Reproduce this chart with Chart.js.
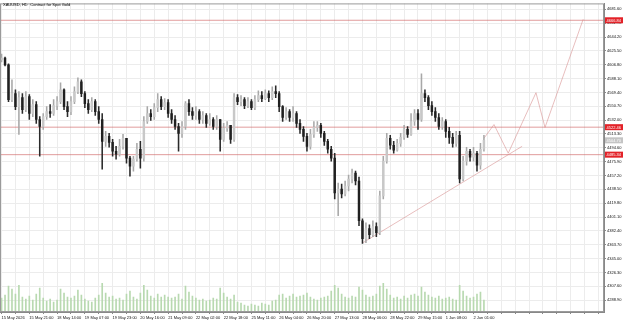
<!DOCTYPE html>
<html>
<head>
<meta charset="utf-8">
<script src="https://cdn.jsdelivr.net/npm/chart.js@4"></script>
<style>
html, body { margin: 0; padding: 0; background: #fff; }
canvas { display: block; }
</style>
</head>
<body>
<canvas id="grafico" width="625" height="321"></canvas>
<script>
// Título del gráfico (esquina superior izquierda)
const titulo = 'XAUUSD, H1:  Contract for Spot Gold';

// Etiquetas del eje de tiempo y posición (índice de vela) de cada una
const etiquetasFecha = ['15 May 2026', '15 May 21:00', '18 May 14:00', '19 May 07:00', '19 May 23:00', '20 May 16:00',
    '21 May 09:00', '22 May 02:00', '22 May 18:00', '25 May 11:00', '26 May 04:00', '26 May 20:00',
    '27 May 13:00', '28 May 06:00', '28 May 22:00', '29 May 15:00', '1 Jun 08:00', '2 Jun 01:00'];
const posicionEtiquetas = [0, 8, 16, 24, 32, 40, 48, 56, 64, 72, 80, 88, 96, 104, 112, 120, 128, 136];

// Marcas del eje de precios
const marcasPrecio = [4681.60, 4662.90, 4644.20, 4625.50, 4606.80, 4588.10, 4569.40, 4550.70, 4532.00, 4513.30,
    4494.60, 4475.90, 4457.20, 4438.50, 4419.80, 4401.10, 4382.40, 4363.70, 4345.00, 4326.30, 4307.60, 4288.90];

// Velas: apertura inicial, cierres, máximos y mínimos
const aperturaInicial = 4613.2;
const cierres = [
    4615.9, 4606.5, 4559.6, 4567.7, 4550.3, 4562.4, 4546.2, 4563.7, 4540.9, 4553.0,
    4532.8, 4523.4, 4536.8, 4543.5, 4540.9, 4551.6, 4557.0, 4573.0, 4550.3, 4543.5,
    4557.0, 4570.4, 4583.8, 4567.7, 4554.3, 4546.2, 4557.0, 4543.5, 4532.8, 4503.3,
    4510.0, 4501.9, 4489.9, 4485.9, 4496.6, 4507.4, 4480.6, 4469.8, 4479.2, 4492.6,
    4480.6, 4530.1, 4540.9, 4536.8, 4548.9, 4559.6, 4550.3, 4555.7, 4540.9, 4532.8,
    4523.4, 4514.0, 4523.4, 4554.3, 4543.5, 4538.2, 4543.5, 4532.8, 4538.2, 4527.5,
    4532.8, 4523.4, 4532.8, 4506.0, 4520.8, 4524.8, 4506.0, 4562.4, 4557.0, 4559.6,
    4551.6, 4557.0, 4548.9, 4559.6, 4565.0, 4561.0, 4567.7, 4562.4, 4570.4, 4567.7,
    4550.3, 4535.5, 4543.5, 4535.5, 4540.9, 4527.5, 4519.4, 4510.0, 4496.6, 4512.7,
    4522.1, 4524.8, 4514.0, 4503.3, 4492.6, 4480.6, 4433.6, 4439.0, 4432.3, 4443.0,
    4452.4, 4460.5, 4449.7, 4396.1, 4372.0, 4385.4, 4377.4, 4388.1, 4380.0, 4429.6,
    4476.5, 4507.4, 4498.0, 4491.3, 4500.6, 4508.7, 4519.4, 4512.7, 4530.1, 4540.9,
    4532.8, 4567.7, 4562.4, 4551.6, 4543.5, 4535.5, 4523.4, 4530.1, 4516.7, 4508.7,
    4500.6, 4511.3, 4452.4, 4476.5, 4489.9, 4481.9, 4487.2, 4471.1, 4492.6, 4504.7
];
const maximos = [
    4621.3, 4617.3, 4607.9, 4586.4, 4573.0, 4570.4, 4567.7, 4570.4, 4566.4, 4559.6,
    4557.0, 4536.8, 4540.9, 4550.3, 4553.0, 4559.6, 4563.7, 4582.4, 4574.4, 4557.0,
    4563.7, 4577.1, 4589.1, 4586.4, 4570.4, 4559.6, 4562.4, 4559.6, 4550.3, 4540.9,
    4516.7, 4514.0, 4506.0, 4496.6, 4506.0, 4512.7, 4507.4, 4483.2, 4483.2, 4500.6,
    4503.3, 4536.8, 4550.3, 4546.2, 4554.3, 4567.7, 4563.7, 4561.0, 4559.6, 4546.2,
    4538.2, 4527.5, 4530.1, 4557.0, 4559.6, 4548.9, 4550.3, 4546.2, 4543.5, 4540.9,
    4540.9, 4535.5, 4538.2, 4532.8, 4527.5, 4530.1, 4524.8, 4567.7, 4566.4, 4565.0,
    4562.4, 4562.4, 4559.6, 4565.0, 4571.7, 4570.4, 4573.0, 4571.7, 4577.1, 4578.4,
    4570.4, 4551.6, 4548.9, 4546.2, 4550.3, 4543.5, 4532.8, 4523.4, 4514.0, 4519.4,
    4530.1, 4530.1, 4527.5, 4516.7, 4506.0, 4496.6, 4487.2, 4447.0, 4445.7, 4449.7,
    4457.8, 4465.8, 4463.1, 4455.1, 4398.8, 4393.4, 4390.7, 4396.1, 4393.4, 4436.3,
    4483.2, 4514.0, 4511.3, 4503.3, 4506.0, 4514.0, 4524.8, 4523.4, 4540.9, 4546.2,
    4546.2, 4594.5, 4573.0, 4565.0, 4557.0, 4548.9, 4540.9, 4535.5, 4532.8, 4522.1,
    4514.0, 4516.7, 4516.7, 4483.2, 4495.3, 4492.6, 4495.3, 4489.9, 4500.6, 4511.3
];
const minimos = [
    4610.6, 4605.2, 4557.0, 4557.0, 4546.2, 4512.7, 4540.9, 4543.5, 4532.8, 4536.8,
    4527.5, 4483.2, 4519.4, 4532.8, 4535.5, 4538.2, 4546.2, 4554.3, 4546.2, 4536.8,
    4539.5, 4554.3, 4567.7, 4563.7, 4548.9, 4540.9, 4543.5, 4538.2, 4527.5, 4465.8,
    4496.6, 4495.3, 4483.2, 4479.2, 4483.2, 4492.6, 4473.8, 4456.4, 4463.1, 4476.5,
    4467.1, 4476.5, 4527.5, 4531.5, 4532.8, 4543.5, 4546.2, 4546.2, 4535.5, 4527.5,
    4519.4, 4489.9, 4508.7, 4519.4, 4538.2, 4532.8, 4532.8, 4527.5, 4527.5, 4522.1,
    4524.8, 4519.4, 4519.4, 4489.9, 4503.3, 4516.7, 4500.6, 4503.3, 4553.0, 4551.6,
    4547.6, 4548.9, 4546.2, 4546.2, 4557.0, 4557.0, 4559.6, 4557.0, 4559.6, 4562.4,
    4543.5, 4530.1, 4532.8, 4530.1, 4530.1, 4522.1, 4514.0, 4503.3, 4489.9, 4492.6,
    4508.7, 4516.7, 4508.7, 4497.9, 4487.2, 4476.5, 4425.6, 4402.8, 4426.9, 4429.6,
    4436.3, 4447.0, 4444.4, 4389.4, 4365.3, 4366.6, 4372.0, 4374.7, 4374.7, 4377.4,
    4425.6, 4473.8, 4492.6, 4487.2, 4489.9, 4496.6, 4506.0, 4508.7, 4511.3, 4524.8,
    4519.4, 4530.1, 4557.0, 4546.2, 4538.2, 4530.1, 4519.4, 4519.4, 4508.7, 4500.6,
    4495.3, 4496.6, 4447.0, 4449.7, 4471.1, 4476.5, 4476.5, 4463.1, 4465.8, 4489.9
];

// Volumen de ticks por vela
const volumenes = [
    2800, 3400, 5200, 4600, 3600, 5400, 3000, 2600, 3200, 2400,
    3600, 4800, 2800, 2200, 2600, 2000, 2400, 4600, 3800, 3000,
    2800, 3200, 4400, 3400, 2600, 2200, 2000, 2800, 3400, 5800,
    3800, 3000, 3200, 2600, 2800, 2400, 3600, 4200, 3000, 2600,
    3800, 5400, 4400, 3200, 2800, 3600, 3000, 3400, 3000, 2800,
    3000, 3600, 2600, 5200, 4000, 3200, 2800, 2400, 2600, 2200,
    2400, 2800, 2600, 4800, 3800, 3000, 2600, 3400, 2000, 1800,
    1400, 1200, 1600, 1400, 1200, 1800, 1600, 1400, 2200, 2400,
    3400, 3600, 2800, 3200, 3600, 3000, 3200, 3400, 3800, 3000,
    2600, 2400, 2800, 3000, 3200, 4200, 5400, 4800, 3600, 3000,
    2800, 3200, 3000, 5000, 4400, 3400, 3000, 3200, 3600, 5200,
    5800, 4600, 3400, 2800, 3000, 2600, 3200, 2800, 3400, 3600,
    3200, 5000, 4000, 3400, 3000, 2800, 3200, 2600, 2800, 3000,
    2600, 2400, 5400, 4200, 3200, 2800, 3000, 3600, 4000, 2400
];

// Niveles horizontales (rojos) y precio actual (gris)
const niveles = [4666.84, 4522.46, 4485.34];
const precioActual = 4504.70;

// Línea de tendencia y proyección en zigzag (x = índice de vela)
const tendenciaX = [104.2, 150.0];
const tendenciaY = [4366.6, 4496.6];
const zigzagX = [139.0, 141.9, 146.0, 154.0, 156.6, 167.6];
const zigzagY = [4507.4, 4526.0, 4487.3, 4569.0, 4522.1, 4668.2];

const X_MIN = -0.45, X_MAX = 173.6;
const fuente = '"Liberation Sans", Arial, sans-serif';

// Construir datos para el gráfico
const aperturas = [aperturaInicial, ...cierres.slice(0, -1)];
const mechas = cierres.map((c, i) => ({ x: i, y: [minimos[i], maximos[i]] }));
const cuerpos = cierres.map((c, i) => ({ x: i, y: [aperturas[i], c] }));
const alcista = cierres.map((c, i) => c >= aperturas[i]);
const datosVolumen = volumenes.map((v, i) => ({ x: i, y: v }));

const datasetsNiveles = niveles.map(n => ({
    type: 'line',
    data: [{ x: X_MIN, y: n }, { x: X_MAX, y: n }],
    borderColor: 'rgba(205,90,90,0.6)',
    borderWidth: 1,
    pointRadius: 0,
    yAxisID: 'y',
    order: 5
}));

// Etiquetas en el eje de precios, título y marco
const marcasPlugin = {
    id: 'marcas',
    afterDraw(chart) {
        const ctx = chart.ctx;
        const area = chart.chartArea;
        const escalaY = chart.scales.y;
        ctx.save();
        ctx.strokeStyle = '#9a9a9a';
        ctx.lineWidth = 1;
        ctx.strokeRect(area.left + 0.5, area.top + 0.5, area.right - area.left - 1, area.bottom - area.top - 1);

        ctx.font = '4px ' + fuente;
        ctx.fillStyle = '#000';
        ctx.textBaseline = 'middle';
        ctx.textAlign = 'left';
        ctx.fillText(titulo, 3, 5);

        const etiqueta = (valor, fondo) => {
            const py = escalaY.getPixelForValue(valor);
            ctx.fillStyle = fondo;
            ctx.fillRect(area.right + 1, py - 3, 18, 6);
            ctx.fillStyle = '#fff';
            ctx.fillText(valor.toFixed(2), area.right + 2.5, py + 0.3);
        };
        niveles.forEach(n => etiqueta(n, '#e32228'));
        etiqueta(precioActual, '#c4c4c4');
        ctx.restore();
    }
};

const ctx = document.getElementById('grafico').getContext('2d');
new Chart(ctx, {
    type: 'bar',
    data: {
        datasets: [
            {
                data: datosVolumen,
                yAxisID: 'yv',
                backgroundColor: '#b8d9b0',
                barThickness: 1,
                grouped: false,
                order: 10
            },
            ...datasetsNiveles,
            {
                type: 'line',
                data: tendenciaX.map((x, i) => ({ x: x, y: tendenciaY[i] })),
                borderColor: 'rgba(210,130,130,0.65)',
                borderWidth: 0.8,
                pointRadius: 0,
                yAxisID: 'y',
                order: 4
            },
            {
                type: 'line',
                data: zigzagX.map((x, i) => ({ x: x, y: zigzagY[i] })),
                borderColor: 'rgba(210,130,130,0.65)',
                borderWidth: 0.8,
                pointRadius: 0,
                tension: 0,
                yAxisID: 'y',
                order: 4
            },
            {
                data: mechas,
                yAxisID: 'y',
                backgroundColor: alcista.map(a => a ? '#a8a8a8' : '#2a2a2a'),
                barThickness: 0.9,
                grouped: false,
                order: 2
            },
            {
                data: cuerpos,
                yAxisID: 'y',
                backgroundColor: alcista.map(a => a ? '#c8c8c8' : '#202020'),
                barThickness: 1.8,
                grouped: false,
                order: 1
            }
        ]
    },
    options: {
        responsive: false,
        animation: false,
        devicePixelRatio: 1,
        layout: { padding: { top: 1, left: 0, right: 0, bottom: 0 } },
        plugins: { legend: { display: false }, tooltip: { enabled: false } },
        scales: {
            x: {
                type: 'linear',
                min: X_MIN,
                max: X_MAX,
                offset: false,
                afterBuildTicks: (escala) => {
                    const marcas = [];
                    for (let v = 0; v <= 172; v += 4) marcas.push({ value: v });
                    escala.ticks = marcas;
                },
                afterFit: (escala) => { escala.height = 9; },
                grid: { color: '#ececec', offset: false, tickLength: 2, tickColor: '#888' },
                border: { color: '#888' },
                ticks: {
                    autoSkip: false,
                    maxRotation: 0,
                    align: 'start',
                    padding: 1,
                    color: '#111',
                    font: { size: 4, family: fuente },
                    callback: (v) => {
                        const k = posicionEtiquetas.indexOf(v);
                        return k >= 0 ? etiquetasFecha[k] : '';
                    }
                }
            },
            y: {
                position: 'right',
                min: 4272.82,
                max: 4689.64,
                afterBuildTicks: (escala) => { escala.ticks = marcasPrecio.map(v => ({ value: v })); },
                afterFit: (escala) => { escala.width = 21; },
                grid: { color: '#ececec', tickLength: 2, tickColor: '#888' },
                border: { color: '#888' },
                ticks: {
                    padding: 1,
                    color: '#111',
                    font: { size: 4, family: fuente },
                    callback: (v) => Number(v).toFixed(2)
                }
            },
            yv: {
                display: false,
                min: 0,
                max: 62200
            }
        }
    },
    plugins: [marcasPlugin]
});
</script>
</body>
</html>
